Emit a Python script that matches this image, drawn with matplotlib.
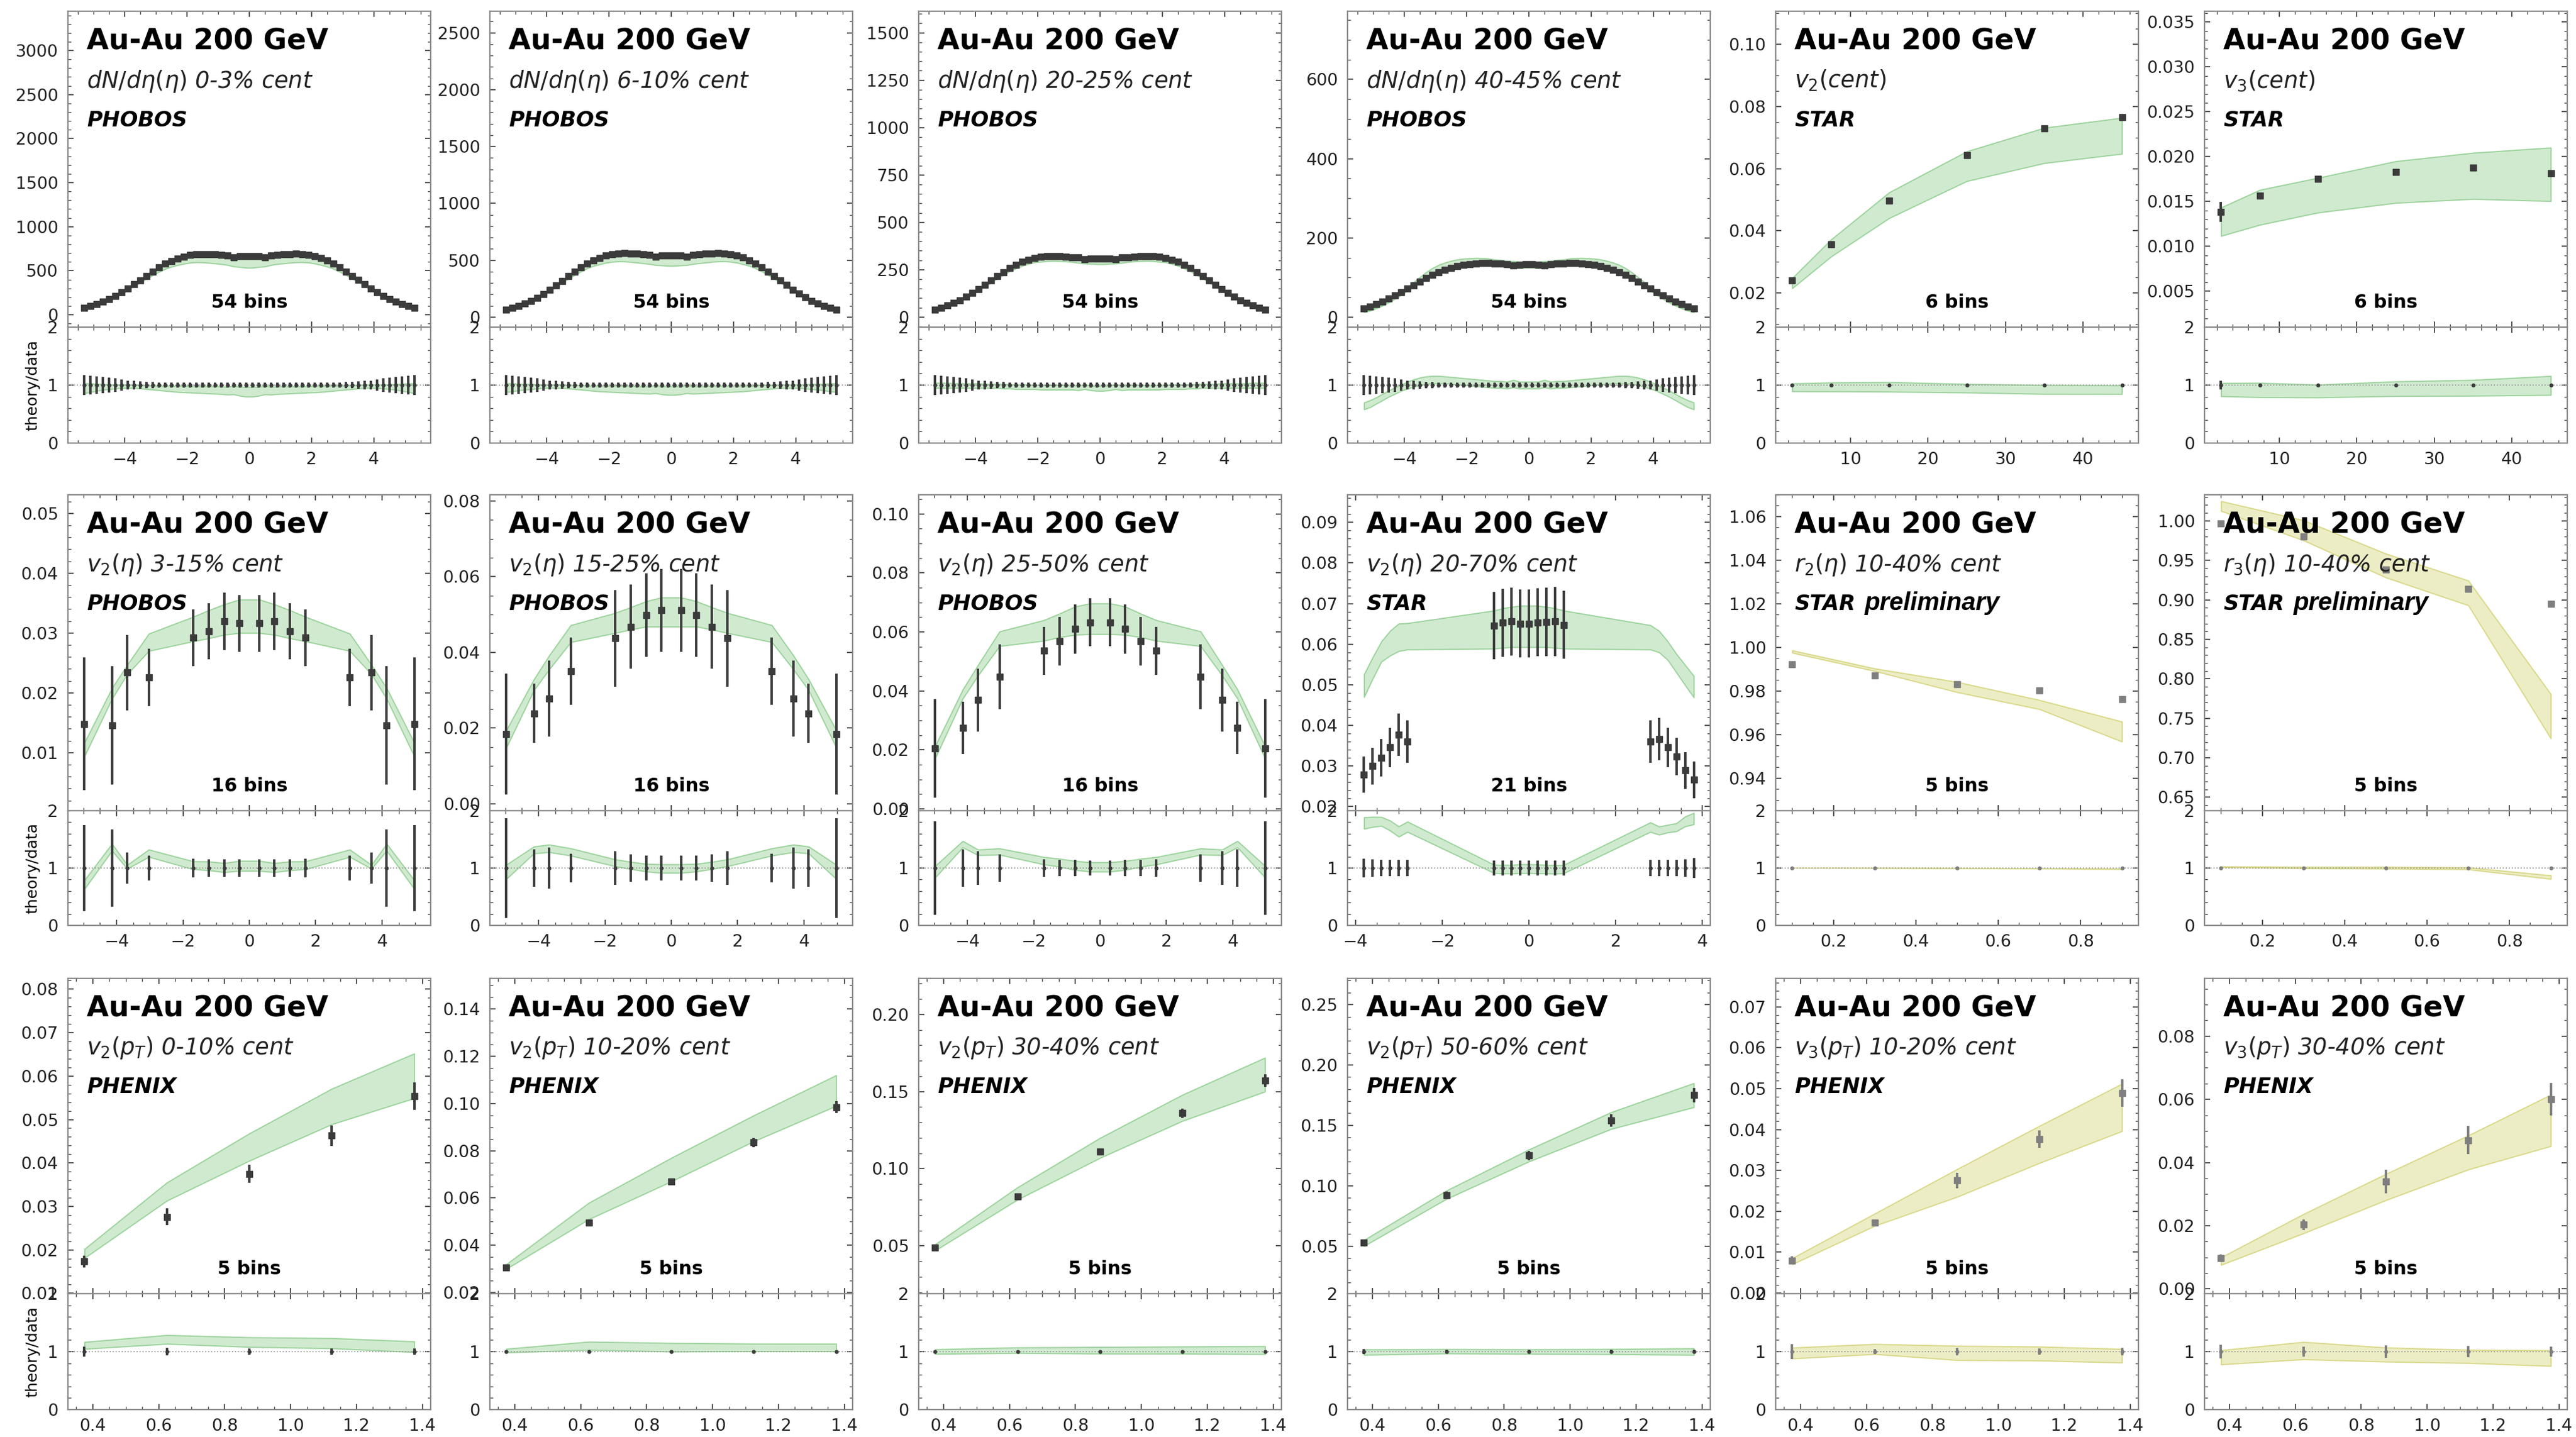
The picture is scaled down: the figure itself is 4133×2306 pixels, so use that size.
import numpy as np
import matplotlib
matplotlib.use("Agg")
import matplotlib.pyplot as plt
from matplotlib.ticker import MultipleLocator, AutoMinorLocator

plt.rcParams.update({
    "font.family": ["DejaVu Sans"],
    "mathtext.fontset": "dejavusans",
    "mathtext.default": "it",
    "axes.edgecolor": "#8a8a8a",
    "axes.linewidth": 1.6,
    "xtick.direction": "in",
    "ytick.direction": "in",
    "xtick.top": True,
    "ytick.right": True,
    "xtick.major.size": 6.5,
    "ytick.major.size": 6.5,
    "xtick.minor.size": 3.3,
    "ytick.minor.size": 3.3,
    "xtick.major.width": 1.3,
    "ytick.major.width": 1.3,
    "xtick.minor.width": 1.0,
    "ytick.minor.width": 1.0,
    "xtick.color": "#444444",
    "ytick.color": "#444444",
    "xtick.labelcolor": "#222222",
    "ytick.labelcolor": "#222222",
    "xtick.labelsize": 19.5,
    "ytick.labelsize": 19.5,
    "xtick.major.pad": 10,
    "ytick.major.pad": 11,
})

# ---------------------------------------------------------------- data
# PHOBOS dN/deta, pseudorapidity bins
eta54 = [-5.3, -5.1, -4.9, -4.7, -4.5, -4.3, -4.1, -3.9, -3.7, -3.5, -3.3, -3.1, -2.9, -2.7,
         -2.5, -2.3, -2.1, -1.9, -1.7, -1.5, -1.3, -1.1, -0.9, -0.7, -0.5, -0.3, -0.1,
         0.1, 0.3, 0.5, 0.7, 0.9, 1.1, 1.3, 1.5, 1.7, 1.9, 2.1, 2.3, 2.5, 2.7, 2.9, 3.1,
         3.3, 3.5, 3.7, 3.9, 4.1, 4.3, 4.5, 4.7, 4.9, 5.1, 5.3]

dndeta_0_3 = [78, 98, 122, 148, 175, 212, 252, 298, 345, 392, 440, 490, 535, 578, 612, 640, 662, 678,
              688, 690, 688, 684, 680, 676, 652, 664, 666,
              666, 664, 652, 676, 681, 685, 689, 691, 689, 680, 664, 642, 614, 580, 537, 492, 442,
              394, 347, 300, 254, 214, 177, 150, 123, 99, 79]
dndeta_6_10 = [63, 80, 99, 120, 142, 172, 205, 242, 281, 320, 360, 400, 437, 472, 500, 522, 540, 552,
               560, 562, 560, 557, 553, 550, 532, 541, 543,
               543, 541, 532, 550, 554, 557, 561, 563, 561, 553, 541, 523, 501, 473, 438, 401, 361,
               321, 282, 243, 206, 173, 143, 121, 100, 81, 64]
dndeta_20_25 = [40, 50, 62, 76, 90, 108, 127, 148, 170, 192, 215, 237, 258, 276, 291, 302, 311, 317,
                321, 322, 321, 319, 316, 314, 304, 309, 310,
                310, 309, 304, 314, 316, 319, 321, 322, 321, 317, 311, 302, 291, 276, 258, 237, 215,
                192, 170, 148, 127, 108, 90, 76, 62, 50, 40]
dndeta_40_45 = [22, 27, 33, 40, 47, 55, 63, 72, 81, 90, 99, 107, 114, 120, 125, 129, 132, 134,
                136, 137, 137, 136, 135, 134, 130, 132, 133,
                133, 132, 130, 134, 135, 136, 137, 137, 136, 134, 132, 129, 125, 120, 114, 107, 99,
                90, 81, 72, 63, 55, 47, 40, 33, 27, 22]
dndeta_relerr = [0.17, 0.16, 0.15, 0.14, 0.13, 0.12, 0.10, 0.08, 0.07, 0.06, 0.05, 0.05, 0.045, 0.045,
                 0.04, 0.04, 0.04, 0.04, 0.04, 0.04, 0.04, 0.04, 0.04, 0.04, 0.04, 0.04, 0.04,
                 0.04, 0.04, 0.04, 0.04, 0.04, 0.04, 0.04, 0.04, 0.04, 0.04, 0.04, 0.04, 0.04,
                 0.045, 0.045, 0.05, 0.05, 0.06, 0.07, 0.08, 0.10, 0.12, 0.13, 0.14, 0.15, 0.16, 0.17]

# model / data ratio envelopes for dN/deta
rlo_0_3 = [0.86, 0.88, 0.90, 0.92, 0.93, 0.94, 0.95, 0.95, 0.95, 0.94, 0.93, 0.92, 0.91, 0.90,
           0.89, 0.88, 0.875, 0.87, 0.865, 0.86, 0.855, 0.85, 0.845, 0.835, 0.84, 0.815, 0.80,
           0.80, 0.815, 0.84, 0.835, 0.845, 0.85, 0.855, 0.86, 0.865, 0.87, 0.875, 0.88, 0.89,
           0.90, 0.91, 0.92, 0.93, 0.94, 0.95, 0.95, 0.95, 0.94, 0.93, 0.92, 0.90, 0.88, 0.86]
rhi_0_3 = [1.03, 1.03, 1.02, 1.02, 1.01, 1.01, 1.01, 1.01, 1.01, 1.00, 1.00, 0.99, 0.99, 0.99,
           0.99, 0.99, 0.99, 0.98, 0.98, 0.98, 0.98, 0.98, 0.98, 0.97, 0.99, 0.97, 0.97,
           0.97, 0.97, 0.99, 0.97, 0.98, 0.98, 0.98, 0.98, 0.98, 0.98, 0.99, 0.99, 0.99,
           0.99, 0.99, 0.99, 1.00, 1.00, 1.01, 1.01, 1.01, 1.01, 1.01, 1.02, 1.02, 1.03, 1.03]
rlo_6_10 = [0.88, 0.89, 0.91, 0.92, 0.93, 0.94, 0.95, 0.95, 0.95, 0.95, 0.94, 0.93, 0.92, 0.91,
            0.90, 0.89, 0.885, 0.88, 0.875, 0.87, 0.865, 0.86, 0.855, 0.85, 0.86, 0.84, 0.83,
            0.83, 0.84, 0.86, 0.85, 0.855, 0.86, 0.865, 0.87, 0.875, 0.88, 0.885, 0.89, 0.90,
            0.91, 0.92, 0.93, 0.94, 0.95, 0.95, 0.95, 0.95, 0.94, 0.93, 0.92, 0.91, 0.89, 0.88]
rhi_6_10 = [1.03, 1.03, 1.02, 1.02, 1.02, 1.01, 1.01, 1.01, 1.01, 1.01, 1.00, 1.00, 1.00, 0.99,
            0.99, 0.99, 0.99, 0.99, 0.99, 0.99, 0.99, 0.98, 0.98, 0.98, 1.00, 0.98, 0.98,
            0.98, 0.98, 1.00, 0.98, 0.98, 0.98, 0.99, 0.99, 0.99, 0.99, 0.99, 0.99, 0.99,
            0.99, 1.00, 1.00, 1.00, 1.01, 1.01, 1.01, 1.01, 1.01, 1.02, 1.02, 1.02, 1.03, 1.03]
rlo_20_25 = [0.95, 0.95, 0.95, 0.95, 0.95, 0.95, 0.95, 0.95, 0.95, 0.95, 0.95, 0.94, 0.94, 0.93,
             0.93, 0.93, 0.93, 0.92, 0.92, 0.92, 0.92, 0.92, 0.92, 0.91, 0.93, 0.91, 0.90,
             0.90, 0.91, 0.93, 0.91, 0.92, 0.92, 0.92, 0.92, 0.92, 0.92, 0.93, 0.93, 0.93,
             0.93, 0.94, 0.94, 0.95, 0.95, 0.95, 0.95, 0.95, 0.95, 0.95, 0.95, 0.95, 0.95, 0.95]
rhi_20_25 = [1.04, 1.04, 1.04, 1.03, 1.03, 1.03, 1.03, 1.03, 1.02, 1.02, 1.02, 1.02, 1.01, 1.01,
             1.01, 1.01, 1.00, 1.00, 1.00, 1.00, 1.00, 1.00, 1.00, 0.99, 1.01, 0.99, 0.99,
             0.99, 0.99, 1.01, 0.99, 1.00, 1.00, 1.00, 1.00, 1.00, 1.00, 1.00, 1.01, 1.01,
             1.01, 1.01, 1.02, 1.02, 1.02, 1.02, 1.03, 1.03, 1.03, 1.03, 1.03, 1.04, 1.04, 1.04]
rlo_40_45 = [0.58, 0.62, 0.68, 0.74, 0.80, 0.85, 0.90, 0.94, 0.97, 1.00, 1.02, 1.03, 1.03, 1.03,
             1.02, 1.01, 1.00, 0.99, 0.98, 0.97, 0.96, 0.95, 0.95, 0.94, 0.96, 0.94, 0.94,
             0.94, 0.94, 0.96, 0.94, 0.95, 0.95, 0.96, 0.97, 0.98, 0.99, 1.00, 1.01, 1.02,
             1.03, 1.03, 1.03, 1.02, 1.00, 0.97, 0.94, 0.90, 0.85, 0.80, 0.74, 0.68, 0.62, 0.58]
rhi_40_45 = [0.70, 0.74, 0.79, 0.85, 0.91, 0.96, 1.01, 1.06, 1.10, 1.13, 1.15, 1.16, 1.16, 1.15,
             1.14, 1.13, 1.12, 1.11, 1.10, 1.09, 1.08, 1.07, 1.07, 1.06, 1.09, 1.06, 1.06,
             1.06, 1.06, 1.09, 1.06, 1.07, 1.07, 1.08, 1.09, 1.10, 1.11, 1.12, 1.13, 1.14,
             1.15, 1.16, 1.16, 1.15, 1.13, 1.10, 1.06, 1.01, 0.96, 0.91, 0.85, 0.79, 0.74, 0.70]

# STAR v2, v3 vs centrality
cent = [2.5, 7.5, 15, 25, 35, 45]
v2_cent = [0.0241, 0.0356, 0.0498, 0.0643, 0.0730, 0.0766]
v2_cent_err = [0.0003, 0.0003, 0.0003, 0.0003, 0.0003, 0.0003]
v2_cent_lo = [0.0215, 0.0317, 0.0441, 0.0560, 0.0618, 0.0648]
v2_cent_hi = [0.0248, 0.0372, 0.0524, 0.0656, 0.0732, 0.0764]
v3_cent = [0.01383, 0.01568, 0.01750, 0.01831, 0.01875, 0.01814]
v3_cent_err = [0.0011, 0.0003, 0.0003, 0.0002, 0.0002, 0.0002]
v3_cent_lo = [0.01116, 0.01240, 0.01376, 0.01484, 0.01528, 0.01504]
v3_cent_hi = [0.01433, 0.01630, 0.01764, 0.01949, 0.02043, 0.02101]

# PHOBOS v2(eta)
eta16 = [-4.97, -4.14, -3.68, -3.03, -1.70, -1.23, -0.76, -0.30,
         0.30, 0.76, 1.23, 1.70, 3.03, 3.68, 4.14, 4.97]
v2eta_3_15 = [0.0148, 0.0146, 0.0234, 0.0226, 0.0292, 0.0303, 0.0320, 0.0316,
              0.0316, 0.0320, 0.0303, 0.0292, 0.0226, 0.0234, 0.0146, 0.0148]
v2eta_3_15_err = [0.0111, 0.0099, 0.0063, 0.0048, 0.0047, 0.0047, 0.0048, 0.0047,
                  0.0047, 0.0048, 0.0047, 0.0047, 0.0048, 0.0063, 0.0099, 0.0111]
v2eta_3_15_lo = [0.0094, 0.0190, 0.0231, 0.0270, 0.0286, 0.0291, 0.0297, 0.0300,
                 0.0300, 0.0297, 0.0291, 0.0286, 0.0270, 0.0231, 0.0190, 0.0094]
v2eta_3_15_hi = [0.0117, 0.0208, 0.0247, 0.0299, 0.0327, 0.0338, 0.0348, 0.0356,
                 0.0356, 0.0348, 0.0338, 0.0327, 0.0299, 0.0247, 0.0208, 0.0117]
v2eta_15_25 = [0.0184, 0.0239, 0.0278, 0.0351, 0.0437, 0.0468, 0.0498, 0.0511,
               0.0511, 0.0498, 0.0468, 0.0437, 0.0351, 0.0278, 0.0239, 0.0184]
v2eta_15_25_err = [0.0160, 0.0078, 0.0100, 0.0089, 0.0128, 0.0111, 0.0110, 0.0109,
                   0.0109, 0.0110, 0.0111, 0.0128, 0.0089, 0.0100, 0.0078, 0.0160]
v2eta_15_25_lo = [0.0149, 0.0300, 0.0355, 0.0427, 0.0451, 0.0460, 0.0468, 0.0468,
                  0.0468, 0.0468, 0.0460, 0.0451, 0.0427, 0.0355, 0.0300, 0.0149]
v2eta_15_25_hi = [0.0195, 0.0329, 0.0392, 0.0472, 0.0504, 0.0519, 0.0535, 0.0545,
                  0.0545, 0.0535, 0.0519, 0.0504, 0.0472, 0.0392, 0.0329, 0.0195]
v2eta_25_50 = [0.0206, 0.0275, 0.0369, 0.0448, 0.0536, 0.0569, 0.0610, 0.0633,
               0.0633, 0.0610, 0.0569, 0.0536, 0.0448, 0.0369, 0.0275, 0.0206]
v2eta_25_50_err = [0.0167, 0.0089, 0.0107, 0.0109, 0.0081, 0.0083, 0.0084, 0.0082,
                   0.0082, 0.0084, 0.0083, 0.0081, 0.0109, 0.0107, 0.0089, 0.0167]
v2eta_25_50_lo = [0.0172, 0.0374, 0.0452, 0.0552, 0.0570, 0.0582, 0.0590, 0.0593,
                  0.0593, 0.0590, 0.0582, 0.0570, 0.0552, 0.0452, 0.0374, 0.0172]
v2eta_25_50_hi = [0.0214, 0.0405, 0.0488, 0.0602, 0.0640, 0.0662, 0.0686, 0.0697,
                  0.0697, 0.0686, 0.0662, 0.0640, 0.0602, 0.0488, 0.0405, 0.0214]

# STAR v2(eta) 20-70%
eta21 = [-3.8, -3.6, -3.4, -3.2, -3.0, -2.8, -0.8, -0.6, -0.4, -0.2, 0.0, 0.2, 0.4, 0.6, 0.8,
         2.8, 3.0, 3.2, 3.4, 3.6, 3.8]
v2eta_star = [0.0279, 0.0300, 0.0321, 0.0346, 0.0377, 0.0360, 0.0646, 0.0653, 0.0656, 0.0651,
              0.0651, 0.0654, 0.0655, 0.0656, 0.0648, 0.0360, 0.0367, 0.0346, 0.0323, 0.0289, 0.0266]
v2eta_star_err = [0.0045, 0.0045, 0.0046, 0.0048, 0.0052, 0.0052, 0.0083, 0.0084, 0.0084, 0.0083,
                  0.0083, 0.0084, 0.0084, 0.0085, 0.0083, 0.0052, 0.0052, 0.0048, 0.0046, 0.0045, 0.0045]
v2eta_star_lo = [0.0470, 0.0515, 0.0557, 0.0572, 0.0583, 0.0587, 0.0589, 0.0591, 0.0593, 0.0593,
                 0.0593, 0.0593, 0.0593, 0.0591, 0.0589, 0.0587, 0.0580, 0.0561, 0.0530, 0.0499, 0.0469]
v2eta_star_hi = [0.0526, 0.0568, 0.0607, 0.0633, 0.0651, 0.0652, 0.0683, 0.0689, 0.0692, 0.0695,
                 0.0695, 0.0695, 0.0692, 0.0689, 0.0683, 0.0647, 0.0633, 0.0607, 0.0576, 0.0549, 0.0522]

# STAR preliminary r2, r3 decorrelation
eta_r = [0.1, 0.3, 0.5, 0.7, 0.9]
r2 = [0.9922, 0.9872, 0.9832, 0.9801, 0.9761]
r2_err = [0.0005, 0.0005, 0.0005, 0.0006, 0.0006]
r2_lo = [0.9975, 0.9891, 0.9794, 0.9716, 0.9567]
r2_hi = [0.9986, 0.9903, 0.9841, 0.9758, 0.9659]
r3 = [0.9969, 0.9800, 0.9381, 0.9138, 0.8950]
r3_err = [0.0010, 0.0010, 0.0010, 0.0010, 0.0010]
r3_lo = [1.0125, 0.9753, 0.9283, 0.8930, 0.7245]
r3_hi = [1.0250, 1.0008, 0.9585, 0.9244, 0.7806]

# PHENIX v2(pT), v3(pT)
pt = [0.375, 0.625, 0.875, 1.125, 1.375]
v2pt_0_10 = [0.0173, 0.0276, 0.0375, 0.0463, 0.0554]
v2pt_0_10_err = [0.0014, 0.0019, 0.0021, 0.0024, 0.0032]
v2pt_0_10_lo = [0.0181, 0.0313, 0.0405, 0.0489, 0.0549]
v2pt_0_10_hi = [0.0202, 0.0355, 0.0468, 0.0571, 0.0652]
v2pt_10_20 = [0.0305, 0.0495, 0.0670, 0.0835, 0.0985]
v2pt_10_20_err = [0.0008, 0.0010, 0.0014, 0.0020, 0.0025]
v2pt_10_20_lo = [0.0300, 0.0510, 0.0670, 0.0840, 0.0990]
v2pt_10_20_hi = [0.0320, 0.0580, 0.0770, 0.0950, 0.1120]
v2pt_30_40 = [0.0490, 0.0820, 0.1110, 0.1360, 0.1570]
v2pt_30_40_err = [0.0010, 0.0015, 0.0020, 0.0030, 0.0040]
v2pt_30_40_lo = [0.0470, 0.0800, 0.1070, 0.1310, 0.1500]
v2pt_30_40_hi = [0.0510, 0.0880, 0.1200, 0.1480, 0.1720]
v2pt_50_60 = [0.0530, 0.0920, 0.1250, 0.1540, 0.1750]
v2pt_50_60_err = [0.0020, 0.0030, 0.0040, 0.0050, 0.0060]
v2pt_50_60_lo = [0.0500, 0.0890, 0.1200, 0.1470, 0.1650]
v2pt_50_60_hi = [0.0550, 0.0960, 0.1300, 0.1610, 0.1850]
v3pt_10_20 = [0.00795, 0.01714, 0.02753, 0.03762, 0.04892]
v3pt_10_20_err = [0.0010, 0.0007, 0.0019, 0.0021, 0.0033]
v3pt_10_20_lo = [0.0070, 0.0164, 0.0235, 0.0318, 0.0396]
v3pt_10_20_hi = [0.0085, 0.0194, 0.0303, 0.0409, 0.0512]
v3pt_30_40 = [0.00976, 0.0203, 0.0340, 0.0471, 0.0601]
v3pt_30_40_err = [0.0012, 0.0017, 0.0037, 0.0044, 0.0051]
v3pt_30_40_lo = [0.0076, 0.0176, 0.0281, 0.0378, 0.0452]
v3pt_30_40_hi = [0.0100, 0.0237, 0.0364, 0.0486, 0.0615]

# ---------------------------------------------------------------- styles
GREEN = dict(face=(0.17, 0.63, 0.17, 0.22), edge=(0.17, 0.63, 0.17, 0.38), mark="#3b3b3b")
OLIVE = dict(face=(0.74, 0.74, 0.13, 0.26), edge=(0.70, 0.70, 0.10, 0.42), mark="#7f7f7f")


def dn_panel(y, rlo, rhi, label, ylim, ystep):
    y = np.asarray(y, float)
    return dict(x=eta54, y=y, err=y * np.asarray(dndeta_relerr),
                lo=y * np.asarray(rlo), hi=y * np.asarray(rhi),
                sub=r"$dN/d\eta(\eta)$ " + label + " cent", exp="PHOBOS",
                ylim=ylim, ystep=ystep, xstep=2, style=GREEN)


panels = [
    dn_panel(dndeta_0_3, rlo_0_3, rhi_0_3, "0-3%", (-141, 3446), 500),
    dn_panel(dndeta_6_10, rlo_6_10, rhi_6_10, "6-10%", (-88, 2690), 500),
    dn_panel(dndeta_20_25, rlo_20_25, rhi_20_25, "20-25%", (-53, 1614), 250),
    dn_panel(dndeta_40_45, rlo_40_45, rhi_40_45, "40-45%", (-25, 772), 200),
    dict(x=cent, y=v2_cent, err=v2_cent_err, lo=v2_cent_lo, hi=v2_cent_hi,
         sub=r"$v_2(cent)$", exp="STAR", ylim=(0.009, 0.1107), ystep=0.02, xstep=10, style=GREEN),
    dict(x=cent, y=v3_cent, err=v3_cent_err, lo=v3_cent_lo, hi=v3_cent_hi,
         sub=r"$v_3(cent)$", exp="STAR", ylim=(0.001, 0.0362), ystep=0.005, xstep=10, style=GREEN),

    dict(x=eta16, y=v2eta_3_15, err=v2eta_3_15_err, lo=v2eta_3_15_lo, hi=v2eta_3_15_hi,
         sub=r"$v_2(\eta)$ 3-15% cent", exp="PHOBOS", ylim=(0.0003, 0.0531), ystep=0.01, xstep=2, style=GREEN),
    dict(x=eta16, y=v2eta_15_25, err=v2eta_15_25_err, lo=v2eta_15_25_lo, hi=v2eta_15_25_hi,
         sub=r"$v_2(\eta)$ 15-25% cent", exp="PHOBOS", ylim=(-0.0018, 0.0816), ystep=0.02, xstep=2, style=GREEN),
    dict(x=eta16, y=v2eta_25_50, err=v2eta_25_50_err, lo=v2eta_25_50_lo, hi=v2eta_25_50_hi,
         sub=r"$v_2(\eta)$ 25-50% cent", exp="PHOBOS", ylim=(-0.0006, 0.1065), ystep=0.02, xstep=2, style=GREEN),
    dict(x=eta21, y=v2eta_star, err=v2eta_star_err, lo=v2eta_star_lo, hi=v2eta_star_hi,
         sub=r"$v_2(\eta)$ 20-70% cent", exp="STAR", ylim=(0.019, 0.0968), ystep=0.01, xstep=2, style=GREEN),
    dict(x=eta_r, y=r2, err=r2_err, lo=r2_lo, hi=r2_hi,
         sub=r"$r_2(\eta)$ 10-40% cent", exp="STAR", prelim=True, ylim=(0.925, 1.070), ystep=0.02, xstep=0.2, style=OLIVE),
    dict(x=eta_r, y=r3, err=r3_err, lo=r3_lo, hi=r3_hi,
         sub=r"$r_3(\eta)$ 10-40% cent", exp="STAR", prelim=True, ylim=(0.633, 1.033), ystep=0.05, xstep=0.2, style=OLIVE),

    dict(x=pt, y=v2pt_0_10, err=v2pt_0_10_err, lo=v2pt_0_10_lo, hi=v2pt_0_10_hi,
         sub=r"$v_2(p_T)$ 0-10% cent", exp="PHENIX", ylim=(0.0099, 0.0825), ystep=0.01, xstep=0.2, style=GREEN),
    dict(x=pt, y=v2pt_10_20, err=v2pt_10_20_err, lo=v2pt_10_20_lo, hi=v2pt_10_20_hi,
         sub=r"$v_2(p_T)$ 10-20% cent", exp="PHENIX", ylim=(0.0195, 0.153), ystep=0.02, xstep=0.2, style=GREEN),
    dict(x=pt, y=v2pt_30_40, err=v2pt_30_40_err, lo=v2pt_30_40_lo, hi=v2pt_30_40_hi,
         sub=r"$v_2(p_T)$ 30-40% cent", exp="PHENIX", ylim=(0.019, 0.2234), ystep=0.05, xstep=0.2, style=GREEN),
    dict(x=pt, y=v2pt_50_60, err=v2pt_50_60_err, lo=v2pt_50_60_lo, hi=v2pt_50_60_hi,
         sub=r"$v_2(p_T)$ 50-60% cent", exp="PHENIX", ylim=(0.0105, 0.2718), ystep=0.05, xstep=0.2, style=GREEN),
    dict(x=pt, y=v3pt_10_20, err=v3pt_10_20_err, lo=v3pt_10_20_lo, hi=v3pt_10_20_hi,
         sub=r"$v_3(p_T)$ 10-20% cent", exp="PHENIX", ylim=(-0.0002, 0.077), ystep=0.01, xstep=0.2, style=OLIVE),
    dict(x=pt, y=v3pt_30_40, err=v3pt_30_40_err, lo=v3pt_30_40_lo, hi=v3pt_30_40_hi,
         sub=r"$v_3(p_T)$ 30-40% cent", exp="PHENIX", ylim=(-0.0015, 0.0983), ystep=0.02, xstep=0.2, style=OLIVE),
]

# ---------------------------------------------------------------- layout (pixels)
W, H = 4133, 2306
col_left = [109, 786, 1474, 2162, 2849, 3537]
col_w = 582
rows = [(18, 525, 711), (794, 1301, 1485), (1570, 2076, 2262)]

fig = plt.figure(figsize=(W / 100, H / 100), dpi=100)


def box(left, top, bottom):
    return [left / W, 1 - bottom / H, col_w / W, (bottom - top) / H]


for i, p in enumerate(panels):
    r, c = divmod(i, 6)
    top, split, bot = rows[r]
    ax = fig.add_axes(box(col_left[c], top, split))
    axr = fig.add_axes(box(col_left[c], split, bot), sharex=ax)
    st = p["style"]

    x = np.asarray(p["x"], float)
    y = np.asarray(p["y"], float)
    e = np.asarray(p["err"], float)
    lo = np.asarray(p["lo"], float)
    hi = np.asarray(p["hi"], float)

    # main panel: model band + measurement
    ax.fill_between(x, lo, hi, facecolor=st["face"], edgecolor=st["edge"], lw=1.4, zorder=1)
    ax.errorbar(x, y, yerr=e, fmt="s", ms=7.5, color=st["mark"], mec=st["mark"],
                ecolor=st["mark"], elinewidth=2.8, capsize=0, zorder=3)

    # ratio panel: model / data
    axr.fill_between(x, lo / y, hi / y, facecolor=st["face"], edgecolor=st["edge"], lw=1.4, zorder=1)
    axr.axhline(1.0, color="#999999", ls=":", lw=1.3, zorder=2)
    axr.errorbar(x, np.ones_like(y), yerr=e / y, fmt="o", ms=3.6, color=st["mark"],
                 ecolor=st["mark"], elinewidth=2.8, capsize=0, zorder=3)

    ax.set_ylim(*p["ylim"])
    ax.yaxis.set_major_locator(MultipleLocator(p["ystep"]))
    ax.yaxis.set_minor_locator(AutoMinorLocator())
    ax.xaxis.set_major_locator(MultipleLocator(p["xstep"]))
    ax.xaxis.set_minor_locator(AutoMinorLocator())
    ax.tick_params(labelbottom=False, which="both")

    axr.set_ylim(0, 2)
    axr.yaxis.set_major_locator(MultipleLocator(1))
    axr.yaxis.set_minor_locator(AutoMinorLocator(5))
    axr.set_yticklabels([], minor=True)

    for a in (ax, axr):
        for s in a.spines.values():
            s.set_edgecolor("#8a8a8a")

    # annotations
    tr = ax.transAxes
    ax.text(0.052, 0.878, "Au-Au 200 GeV", transform=tr, fontsize=33, fontweight="bold",
            va="baseline", ha="left", zorder=5)
    ax.text(0.052, 0.758, p["sub"], transform=tr, fontsize=26.5, style="italic",
            va="baseline", ha="left", color="#222222", zorder=5)
    ax.text(0.052, 0.636, p["exp"], transform=tr, fontsize=24.5, fontweight="bold",
            style="italic", va="baseline", ha="left", zorder=5)
    if p.get("prelim"):
        ax.text(0.246, 0.636, "preliminary", transform=tr, fontsize=29,
                family=["Liberation Sans", "DejaVu Sans"], fontweight="bold", style="italic",
                va="baseline", ha="left", zorder=5)
    ax.text(0.5, 0.061, f"{len(x)} bins", transform=tr, fontsize=21.5, fontweight="bold",
            va="baseline", ha="center", zorder=5)

    if c == 0:
        axr.set_ylabel("theory/data", fontsize=18, labelpad=9)

fig.savefig("out.png", dpi=100)
